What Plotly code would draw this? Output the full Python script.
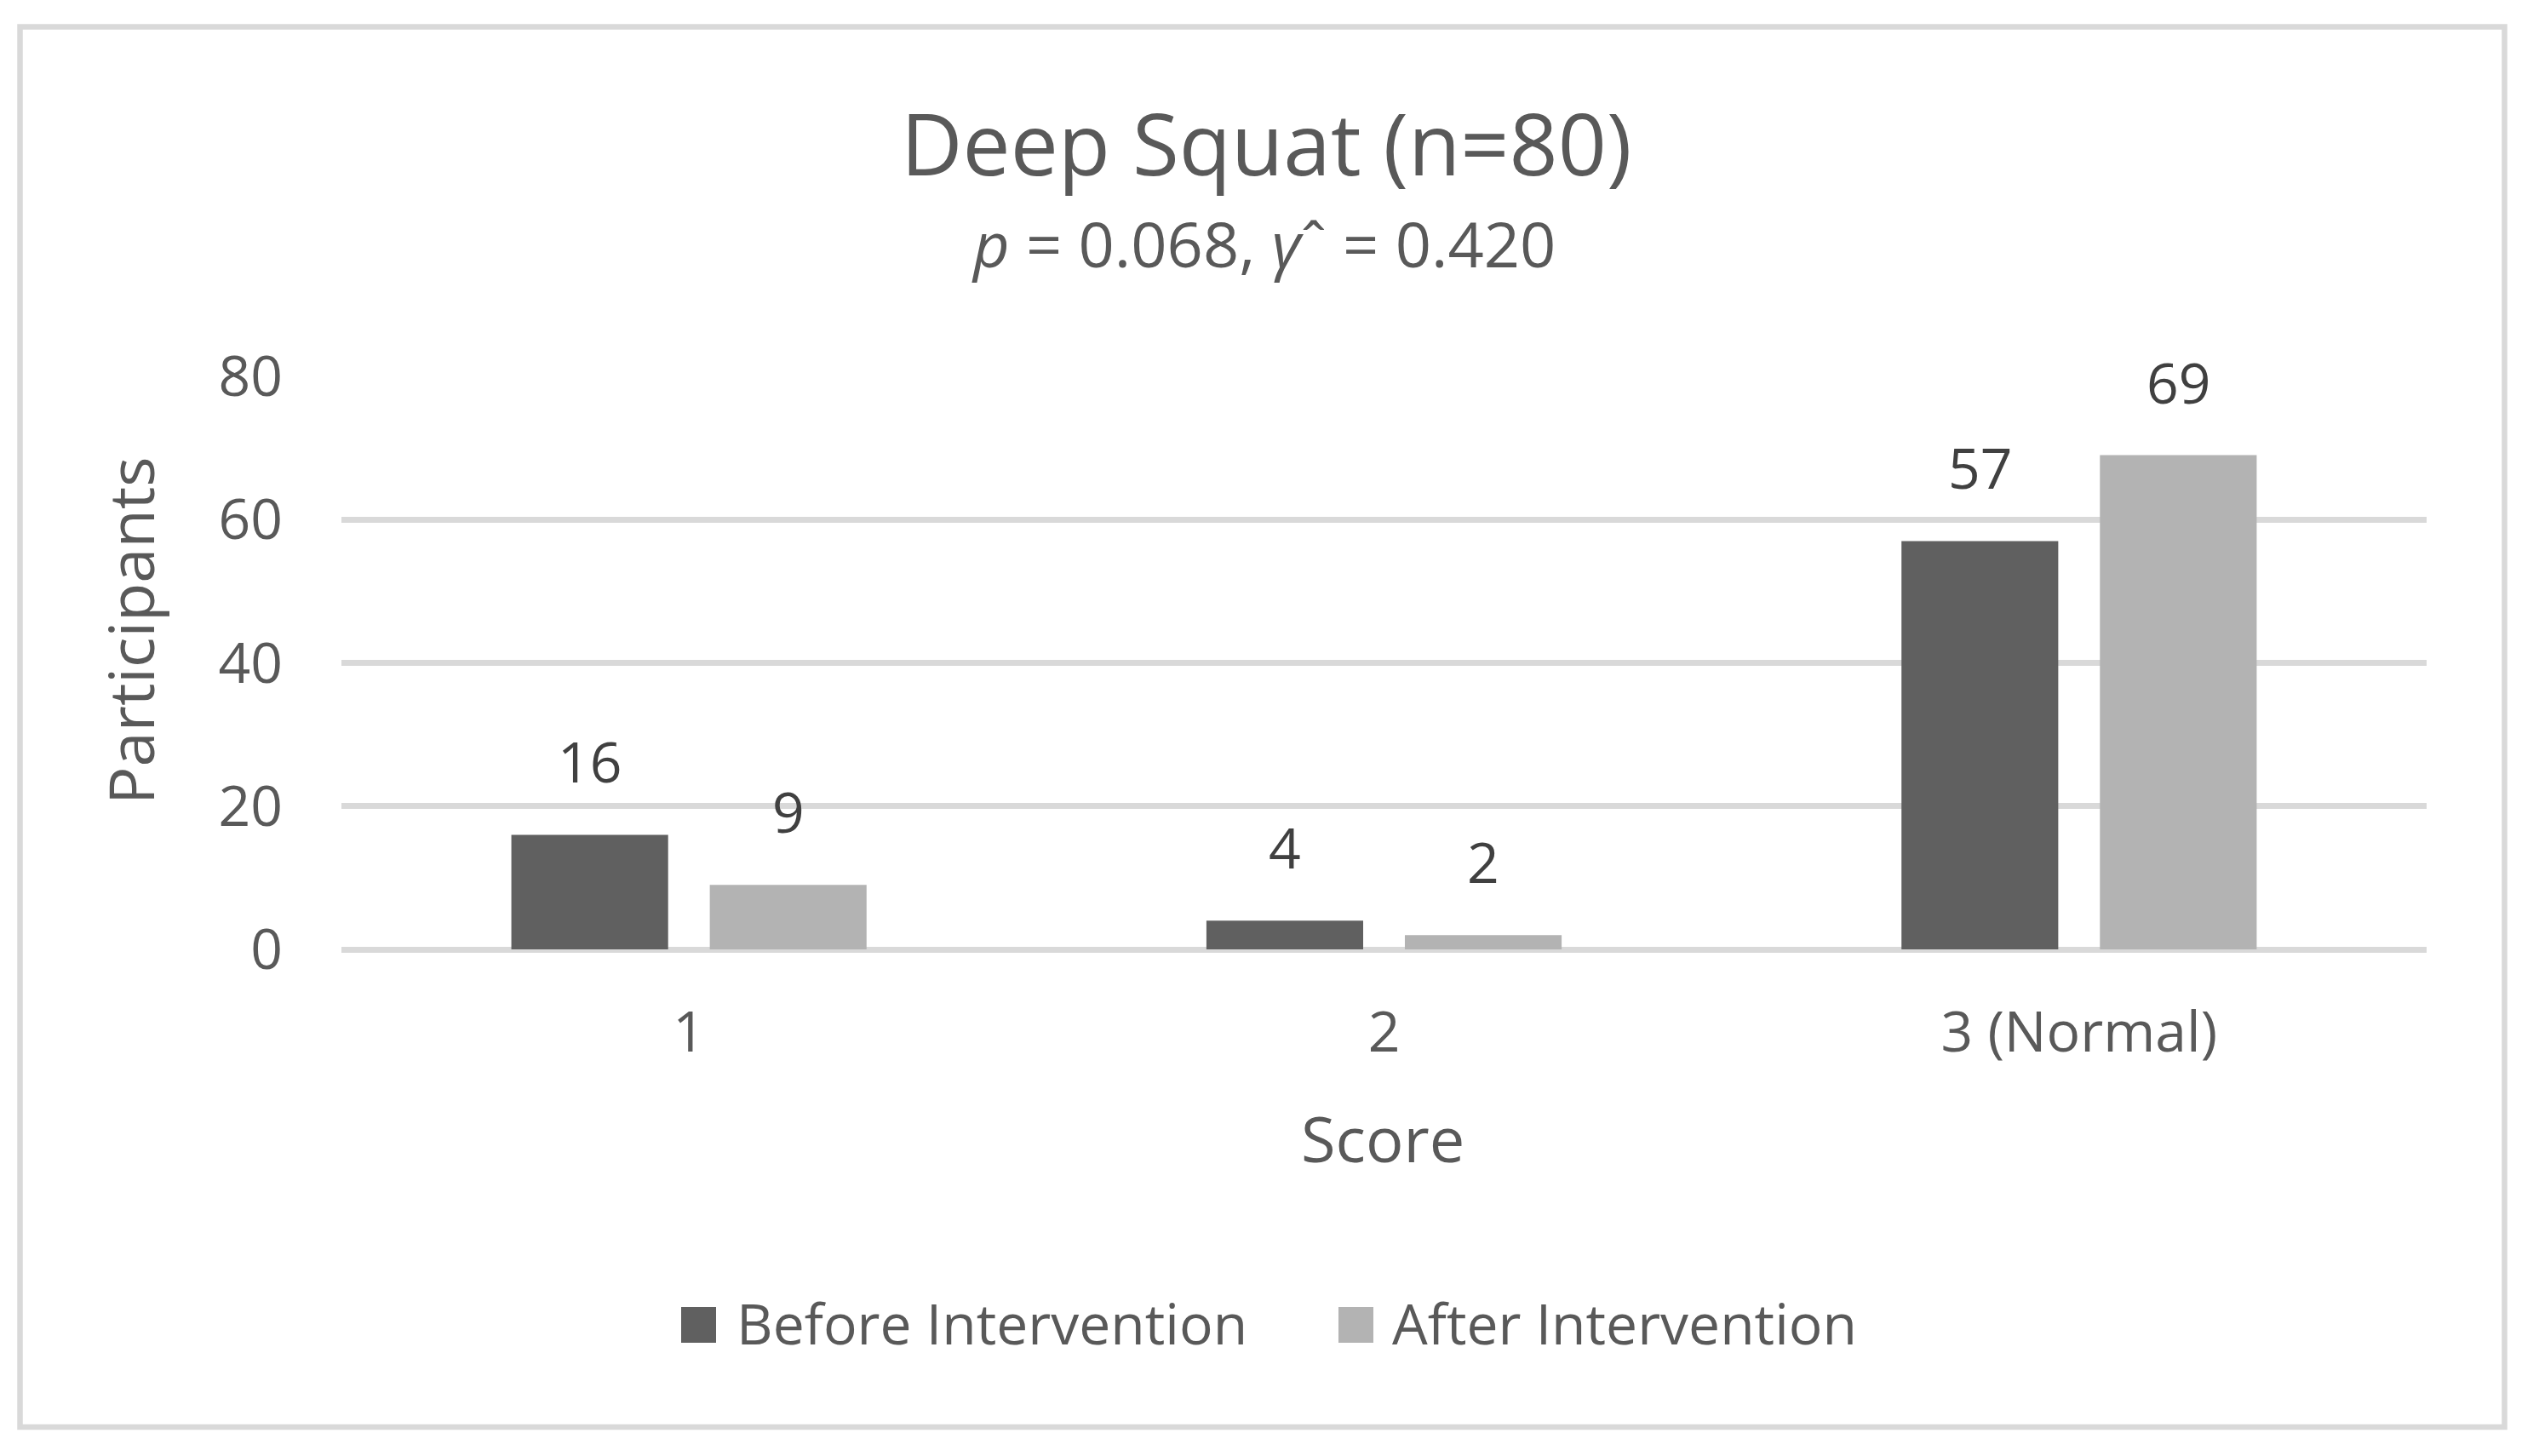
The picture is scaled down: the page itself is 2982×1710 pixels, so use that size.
import plotly.graph_objects as go

# ---- data ----
categories = ["1", "2", "3 (Normal)"]
before_vals = [16, 4, 57]
after_vals = [9, 2, 69]
series_names = ["Before Intervention", "After Intervention"]
title_text = "Deep Squat (n=80)"
subtitle_text = "<i>p</i> = 0.068, <i>γ</i>ˆ = 0.420"
y_ticks = [0, 20, 40, 60, 80]

# ---- styling ----
FONT = "Open Sans"
C_BEFORE = "#606060"
C_AFTER = "#b3b3b3"
C_TEXT = "#595959"
C_LABEL = "#404040"
C_GRID = "#d9d9d9"

OFF = 8  # page body margin
FW, FH = 2982 - 2 * OFF, 1710 - 2 * OFF
# target plot area in screen pixels
PL, PR, PT, PB = 401, 2850, 442, 1115


def px(sx):
    return (sx - PL) / (PR - PL)


def py(sy):
    return (PB - sy) / (PB - PT)


fig = go.Figure()
for name, vals, col in [(series_names[0], before_vals, C_BEFORE), (series_names[1], after_vals, C_AFTER)]:
    fig.add_trace(go.Bar(x=categories, y=vals, name=name, marker=dict(color=col, line=dict(width=0)),
                         showlegend=False))

bargap = 0.429
slot = (PR - PL) / len(categories) * (1 - bargap) / 2
annotations = []
for i, vals in enumerate([before_vals, after_vals]):
    for j, v in enumerate(vals):
        annotations.append(dict(x=j, y=v, xref="x", yref="y", text=str(v), showarrow=False,
                                xshift=(i - 0.5) * slot, yanchor="bottom", yshift=40,
                                font=dict(family=FONT, size=66, color=C_LABEL)))

annotations += [
    dict(x=px(1487), y=py(167), xref="paper", yref="paper", text=title_text, showarrow=False,
         xanchor="center", yanchor="middle", font=dict(family=FONT, size=100, color=C_TEXT)),
    dict(x=px(1484), y=py(286), xref="paper", yref="paper", text=subtitle_text, showarrow=False,
         xanchor="center", yanchor="middle", font=dict(family=FONT, size=74, color=C_TEXT)),
    dict(x=px(1624), y=py(1336), xref="paper", yref="paper", text="Score", showarrow=False,
         xanchor="center", yanchor="middle", font=dict(family=FONT, size=74, color=C_TEXT)),
    dict(x=px(152), y=py(741), xref="paper", yref="paper", text="Participants", showarrow=False,
         textangle=-90, xanchor="center", yanchor="middle", font=dict(family=FONT, size=74, color=C_TEXT)),
    dict(x=px(863), y=py(1553), xref="paper", yref="paper", text=series_names[0], showarrow=False,
         xanchor="left", yanchor="middle", font=dict(family=FONT, size=66, color=C_TEXT)),
    dict(x=px(1633), y=py(1553), xref="paper", yref="paper", text=series_names[1], showarrow=False,
         xanchor="left", yanchor="middle", font=dict(family=FONT, size=66, color=C_TEXT)),
]

shapes = [
    dict(type="rect", xref="paper", yref="paper", x0=px(23.5), x1=px(2941.5), y0=py(1676), y1=py(31.5),
         line=dict(color=C_GRID, width=6.5), fillcolor="rgba(0,0,0,0)", layer="below"),
    dict(type="rect", xref="paper", yref="paper", x0=px(800), x1=px(841), y0=py(1577), y1=py(1535),
         line=dict(width=0), fillcolor=C_BEFORE),
    dict(type="rect", xref="paper", yref="paper", x0=px(1572), x1=px(1613), y0=py(1577), y1=py(1535),
         line=dict(width=0), fillcolor=C_AFTER),
]

fig.update_layout(
    width=FW, height=FH, autosize=False,
    margin=dict(l=PL - OFF, r=FW - (PR - OFF), t=PT - OFF, b=FH - (PB - OFF), pad=0),
    paper_bgcolor="white", plot_bgcolor="white",
    barmode="group", bargap=bargap, bargroupgap=0.21,
    showlegend=False,
    annotations=annotations, shapes=shapes,
    xaxis=dict(type="category", showgrid=False, zeroline=False, showline=False, ticks="",
               tickfont=dict(family=FONT, size=66, color=C_TEXT), ticklabelstandoff=53),
    yaxis=dict(range=[0, 80], tickvals=y_ticks, showgrid=True, gridcolor=C_GRID, gridwidth=6.5,
               zeroline=True, zerolinecolor=C_GRID, zerolinewidth=7, showline=False, ticks="",
               tickfont=dict(family=FONT, size=66, color=C_TEXT), ticklabelstandoff=68),
)

fig.write_html("out.html")
